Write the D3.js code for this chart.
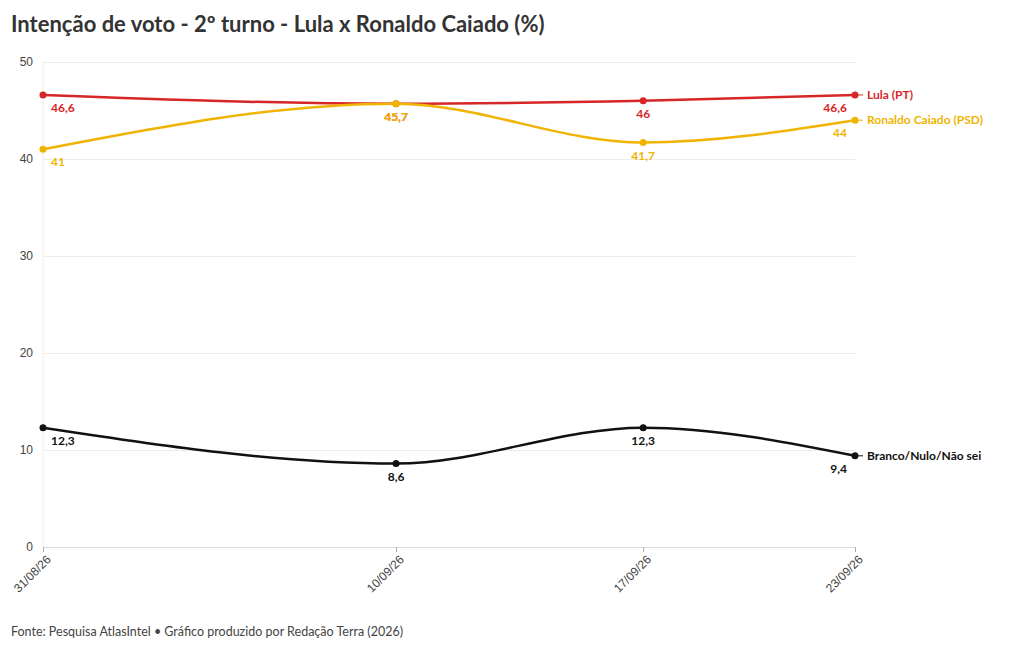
<!DOCTYPE html>
<html><head><meta charset="utf-8">
<script src="https://cdn.jsdelivr.net/npm/d3@7"></script>
<style>
body{margin:0;background:#fff;font-family:"Source Sans Pro",Lato,"Noto Sans",sans-serif;}
</style></head><body>
<svg id="chart" width="1020" height="650"></svg>
<script>
const dates = ['2026-08-31', '2026-09-10', '2026-09-17', '2026-09-23'];
const tickLabels = ['31/08/26', '10/09/26', '17/09/26', '23/09/26'];
const lula = [46.6, 45.7, 46, 46.6];
const caiado = [41, 45.7, 41.7, 44];
const branco = [12.3, 8.6, 12.3, 9.4];
const seriesNames = ['Lula (PT)', 'Ronaldo Caiado (PSD)', 'Branco/Nulo/Não sei'];
const colours = ['#d62728', '#f0b400', '#111111'];

const svg = d3.select('#chart');
const parse = d3.timeParse('%Y-%m-%d');
const x = d3.scaleTime().domain(d3.extent(dates, parse)).range([43, 855]);
const y = d3.scaleLinear().domain([0, 50]).range([547, 62]);

svg.append('text').attr('x', 11).attr('y', 32)
    .attr('font-size', 22).attr('font-weight', 700).attr('fill', '#333')
    .text('Intenção de voto - 2º turno - Lula x Ronaldo Caiado (%)');

const gy = svg.append('g').attr('transform', 'translate(43,0)')
    .call(d3.axisLeft(y).tickValues([0, 10, 20, 30, 40, 50]).tickSize(-812).tickPadding(10));
gy.select('.domain').remove();
gy.selectAll('line').attr('stroke', '#ececec');
gy.selectAll('text').attr('font-size', 12).attr('fill', '#444').attr('font-family', 'inherit');

svg.append('line').attr('x1', 43).attr('x2', 43).attr('y1', 62).attr('y2', 547).attr('stroke', '#ececec');

const gx = svg.append('g').attr('transform', 'translate(0,547)')
    .call(d3.axisBottom(x).tickValues(dates.map(parse)).tickSize(5)
        .tickFormat((d, i) => tickLabels[i]));
gx.select('.domain').attr('stroke', '#ddd');
gx.selectAll('line').attr('stroke', '#aaa');
gx.selectAll('text').attr('font-size', 12).attr('fill', '#444').attr('font-family', 'inherit')
    .attr('text-anchor', 'end').attr('dx', '-0.3em').attr('dy', '0.6em')
    .attr('transform', 'rotate(-45)');

const data = [lula, caiado, branco];
const line = d3.line().x((d, i) => x(parse(dates[i]))).y(d => y(d)).curve(d3.curveMonotoneX);
const fmt = v => String(v).replace('.', ',');

data.forEach((vals, s) => {
    const g = svg.append('g');
    g.append('path').attr('d', line(vals)).attr('fill', 'none')
        .attr('stroke', colours[s]).attr('stroke-width', 2.5);
    g.selectAll('circle').data(vals).join('circle')
        .attr('cx', (d, i) => x(parse(dates[i]))).attr('cy', d => y(d))
        .attr('r', 3.5).attr('fill', colours[s]);
    g.selectAll('text.v').data(vals).join('text').classed('v', true)
        .attr('x', (d, i) => x(parse(dates[i])) + (i === 0 ? 8 : i === 3 ? -8 : 0))
        .attr('y', d => y(d) + 17)
        .attr('text-anchor', (d, i) => i === 0 ? 'start' : i === 3 ? 'end' : 'middle')
        .attr('font-size', 12).attr('font-weight', 700).attr('fill', colours[s])
        .text(d => fmt(d));
    const last = vals[vals.length - 1];
    g.append('line').attr('x1', 855).attr('x2', 863).attr('y1', y(last)).attr('y2', y(last))
        .attr('stroke', colours[s]);
    g.append('text').attr('x', 867).attr('y', y(last) + 4)
        .attr('font-size', 12).attr('font-weight', 700).attr('fill', colours[s])
        .text(seriesNames[s]);
});
// hide second 45,7 label duplicate (Lula label sits under Caiado's)
svg.selectAll('g').filter((d, i, n) => false);

svg.append('text').attr('x', 11).attr('y', 636).attr('font-size', 12.5).attr('fill', '#444')
    .text('Fonte: Pesquisa AtlasIntel • Gráfico produzido por Redação Terra (2026)');
</script>
</body></html>
